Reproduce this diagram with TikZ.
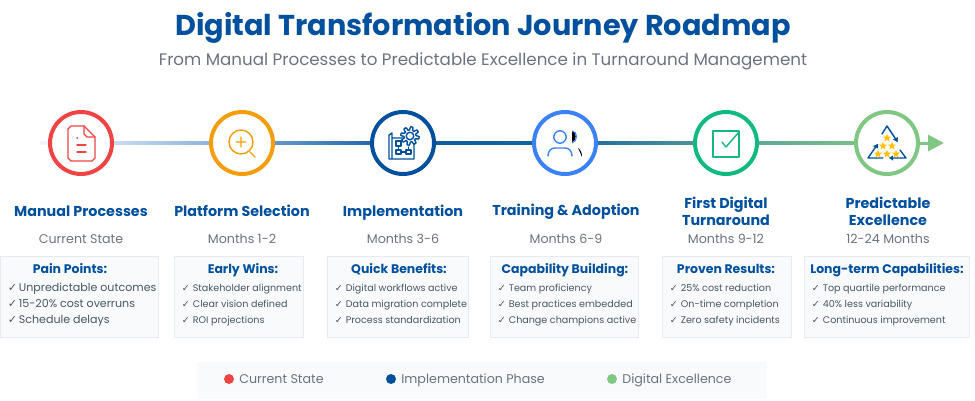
\documentclass[tikz,border=0pt]{standalone}
\usepackage{fontspec}
\setmainfont{Poppins}
\newfontfamily\checkfont{DejaVu Sans}
\usetikzlibrary{arrows.meta,calc,backgrounds,shapes.geometric}
\definecolor{navy}{HTML}{00509D}
\definecolor{cred}{HTML}{EF4444}
\definecolor{corange}{HTML}{F59E0B}
\definecolor{cblue}{HTML}{3B82F6}
\definecolor{cteal}{HTML}{10B981}
\definecolor{cgreen}{HTML}{81C784}
\definecolor{cgold}{HTML}{FFC107}
\definecolor{bar0}{HTML}{F2F7FF}
\definecolor{bar1}{HTML}{DCE9FB}
\definecolor{bar2}{HTML}{7BA7D5}
\definecolor{bar3}{HTML}{0F5A9F}
\definecolor{bar4}{HTML}{14679F}
\definecolor{bar5}{HTML}{5C9E9B}
\definecolor{cardfill}{HTML}{F8FAFC}
\definecolor{cardline}{HTML}{E6EBF1}
\definecolor{graytxt}{HTML}{6B7280}
\definecolor{itemtxt}{HTML}{4B5563}
\tikzset{
  phase/.style={draw=#1, circle, fill=white, line width=.8mm, minimum size=12.4mm, inner sep=0},
  head/.style={text=navy, font=\fontsize{8.15}{9.6}\selectfont\bfseries, align=center, inner sep=0, anchor=mid},
  sub/.style={text=graytxt, font=\fontsize{7.2}{8}\selectfont, inner sep=0, anchor=mid},
  card/.style={draw=cardline, fill=cardfill, line width=.2mm, inner sep=0},
  cardhead/.style={text=navy, font=\fontsize{7.1}{8}\selectfont\bfseries, inner sep=0, anchor=mid},
  item/.style={text=itemtxt, font=\fontsize{#1}{7}\selectfont, inner sep=0, anchor=mid west},
  tick/.style={text=itemtxt, font=\fontsize{#1}{7}\selectfont\checkfont, inner sep=0, anchor=mid west},
  dot/.style={circle, fill=#1, minimum size=2mm, inner sep=0},
  legendtxt/.style={text=graytxt, font=\fontsize{7.2}{8}\selectfont, inner sep=0, anchor=mid west},
  goldstar/.style={star, star points=5, star point ratio=2.3, fill=cgold, minimum size=1.7mm, inner sep=0}
}
\begin{document}
\begin{tikzpicture}[x=.02cm, y=-.02cm, icon/.style={line width=.28mm, line cap=round, line join=round}]
  \useasboundingbox (0,0) rectangle (975,400);

  \node[text=navy, font=\fontsize{16.35}{18}\selectfont\bfseries, inner sep=0] (title) at (483,28) {Digital Transformation Journey Roadmap};
  \node[text=graytxt, font=\fontsize{9.5}{11}\selectfont, inner sep=0] (subtitle) at (483,61) {From Manual Processes to Predictable Excellence in Turnaround Management};

  % timeline
  \coordinate (barstart) at (40,143);
  \coordinate (tipend) at (944,143);
  \foreach \cx/\col [count=\i from 1] in {81/cred,242/corange,403/navy,565/cblue,726/cteal,887/cgreen}{
    \node[phase=\col] (p\i) at (\cx,143) {};
  }
  \begin{scope}[on background layer]
    \foreach \a/\b/\ca/\cb in {barstart/p1/bar0/bar1,p1/p2/bar1/bar2,p2/p3/bar2/bar3,p3/p4/bar3/bar4,p4/p5/bar4/bar5,p5/p6/bar5/cgreen}{
      \fill[left color=\ca, right color=\cb] ($(\a)+(0,-1.6)$) rectangle ($(\b)+(0,1.6)$);
    }
  \end{scope}
  \draw[-{Triangle[length=3.2mm,width=3.2mm]}, cgreen, line width=.6mm] (p6.east) -- (tipend);

  % columns
  \foreach \cx/\hx/\xl/\xr/\ty/\isz/\ttl/\mth/\hd/\ita/\itb/\itc [count=\i from 1] in {
    81/70/0/159/212/6.3/{Manual Processes}/{Current State}/{Pain Points:}/{Unpredictable outcomes}/{15-20\% cost overruns}/{Schedule delays},
    242/243/174/304/212/5.45/{Platform Selection}/{Months 1-2}/{Early Wins:}/{Stakeholder alignment}/{Clear vision defined}/{ROI projections},
    403/399/327/469/212/5.45/{Implementation}/{Months 3-6}/{Quick Benefits:}/{Digital workflows active}/{Data migration complete}/{Process standardization},
    566/565/490/639/211/5.45/{Training \& Adoption}/{Months 6-9}/{Capability Building:}/{Team proficiency}/{Best practices embedded}/{Change champions active},
    726/726/662/792/221/5.45/{First Digital\\Turnaround}/{Months 9-12}/{Proven Results:}/{25\% cost reduction}/{On-time completion}/{Zero safety incidents},
    888/887/804/970/221/5.45/{Predictable\\Excellence}/{12-24 Months}/{Long-term Capabilities:}/{Top quartile performance}/{40\% less variability}/{Continuous improvement}}{
    \node[head] (t\i) at (\cx,\ty) {\ttl};
    \node[sub] (s\i) at (\cx,239) {\mth};
    \node[card, minimum width={(\xr-\xl)*.2mm}, minimum height=16.4mm] (c\i) at ({(\xl+\xr)/2},297) {};
    \node[cardhead] (h\i) at (\hx,269) {\hd};
    \foreach \txt/\dy [count=\j from 1] in {\ita/31,\itb/47,\itc/63}{
      \node[tick=\isz] (k\i\j) at ($(c\i.north west)+(8,\dy)$) {✓};
      \node[item=\isz] (i\i\j) at ($(c\i.north west)+(19,\dy)$) {\txt};
    }
  }

  % icons
  \draw[cred, icon] (71,126) -- (84,126) -- (95,137) -- (95,158) -- (92,161) -- (71,161) -- (68,158) -- (68,129) -- cycle;
  \draw[cred, icon] (84,126) -- (84,134) -- (87,137) -- (95,137);
  \draw[cred, icon] (77,138) -- (77.4,138) (77,145) -- (86,145) (77,152) -- (86,152);

  \draw[corange, icon] (241,142) circle (12) (236,142) -- (246,142) (241,137) -- (241,147) (250,152) -- (255,157);

  \draw[navy, icon] (392,159) -- (392,133) -- (389,135) -- (389,159) -- (414,159) -- (414,142) (392,138) -- (403,138);
  \draw[navy, icon] (396,141) rectangle (401,146) (396,150) rectangle (401,154) (406,150) rectangle (411,154) (401,152) -- (406,152) (398.5,146) -- (398.5,150) (408.5,150) -- (408.5,147);
  \draw[navy, icon, fill=white, samples=97, domain=0:360] plot ({410+(7.6+1.6*sign(sin(8*\x)))*cos(\x)}, {136+(7.6+1.6*sign(sin(8*\x)))*sin(\x)}) -- cycle;
  \draw[navy, icon] (410,136) circle (3.8);

  \draw[cblue, icon] (560,137) circle (6.2);
  \draw[cblue, icon] (548,156) .. controls (548,151) and (551,148) .. (555,148) -- (565,148) .. controls (569,148) and (572,151) .. (572,156);
  \fill[black] (572,131) .. controls (577,132) and (577,141) .. (572,142) -- cycle;
  \draw[cblue, line width=.2mm] (572,131) .. controls (578,131) and (578,142) .. (572,143);
  \fill[black] (578,148) .. controls (581,150) and (582,153) .. (582,157) .. controls (580,153) and (580,151) .. (578,148);

  \draw[cteal, icon] (713,131) rectangle (739,157);
  \draw[cteal, icon] (722,142) -- (726,147) -- (739,132);

  \draw[navy, icon] (882,134) -- (887,126) -- (897,141);
  \draw[navy, icon] (883,158) -- (868,158) -- (877,145);
  \draw[navy, icon] (900,150) -- (906,158) -- (890,158);
  \fill[navy] (897.5,142) -- (893,139.5) -- (898,137) -- cycle;
  \fill[navy] (878,144) -- (873,146) -- (878,148.5) -- cycle;
  \fill[navy] (889,158) -- (893,155.5) -- (893,160.5) -- cycle;
  \foreach \sx/\sy [count=\i from 1] in {887/138,883/146,892/146,878/154,887/154,896/154}{
    \node[goldstar] (st\i) at (\sx,\sy) {};
  }

  % legend
  \node[fill=cardfill, minimum width=114mm, minimum height=7.4mm, inner sep=0] (legend) at (482,380) {};
  \foreach \dx/\col/\txt [count=\i from 1] in {229/cred/Current State,391/navy/Implementation Phase,612/cgreen/Digital Excellence}{
    \node[dot=\col] (d\i) at (\dx,379) {};
    \node[legendtxt] (l\i) at (\dx+10,379) {\txt};
  }
\end{tikzpicture}
\end{document}
